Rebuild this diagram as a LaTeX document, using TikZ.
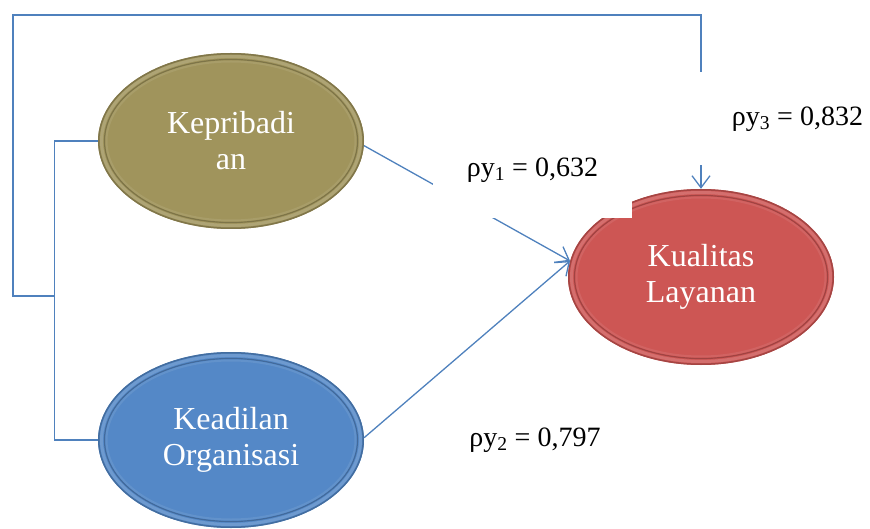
\documentclass[tikz,border=0pt]{standalone}
\usepackage{fontspec}
\setmainfont{Liberation Serif}
\usetikzlibrary{shapes.geometric,arrows.meta}
\definecolor{olivefill}{RGB}{160,148,92}
\definecolor{bluefill}{RGB}{84,136,199}
\definecolor{redfill}{RGB}{205,86,84}
\definecolor{linkblue}{RGB}{79,129,189}
\tikzset{
  var/.style={ellipse, minimum width=266pt, minimum height=176pt, inner sep=0pt,
    fill=#1, text=white, align=center, font=\fontsize{32}{36}\selectfont,
    path picture={
      \draw[#1!80!black, line width=3pt] (path picture bounding box.center) ellipse [x radius=133pt, y radius=88pt];
      \draw[#1!85!white, line width=3pt] (path picture bounding box.center) ellipse [x radius=129.5pt, y radius=84.5pt];
      \draw[#1!78!black, line width=1.2pt] (path picture bounding box.center) ellipse [x radius=126.5pt, y radius=81.5pt];
      \draw[#1!92!white, line width=2pt] (path picture bounding box.center) ellipse [x radius=124.5pt, y radius=79.5pt];
    }},
  link/.style={draw=linkblue, line width=1.3pt},
  tip/.style={-{Straight Barb[length=12pt,width=18pt]}},
  coef/.style={fill=white, text=black, inner sep=0pt, font=\fontsize{28}{30}\selectfont},
}
\begin{document}
\begin{tikzpicture}[x=1pt,y=-1pt]
\useasboundingbox (0,0) rectangle (870,529);
\node[var=olivefill] (kep) at (231,141) {Kepribadi\\an};
\node[var=bluefill] (kea) at (231,440) {Keadilan\\Organisasi};
\node[var=redfill] (kual) at (701,277) {Kualitas\\Layanan};
% bracket linking the two predictors
\draw[link] (kep.west) -- ++(-43,0) coordinate (bl) |- (kea.west);
\coordinate (jn) at (bl |- 0,296);
\coordinate (lc) at (13,296);
\coordinate (tc) at (13,15);
\draw[link,tip] (jn) -- (lc) -- (tc) -| (kual.north);
% direct paths
\draw[link,tip] (kep.-2) -- (kual.173);
\draw[link,tip] (kea.1) -- (kual.173);
% coefficients
\node[coef, minimum width=199pt, minimum height=96pt] (c1) at (532.5,170) {ρy\textsubscript{1} = 0,632};
\node[coef] (c2) at (535,440) {ρy\textsubscript{2} = 0,797};
\node[coef, minimum width=205pt, minimum height=93pt] (c3) at (797.5,119) {ρy\textsubscript{3} = 0,832};
\end{tikzpicture}
\end{document}
